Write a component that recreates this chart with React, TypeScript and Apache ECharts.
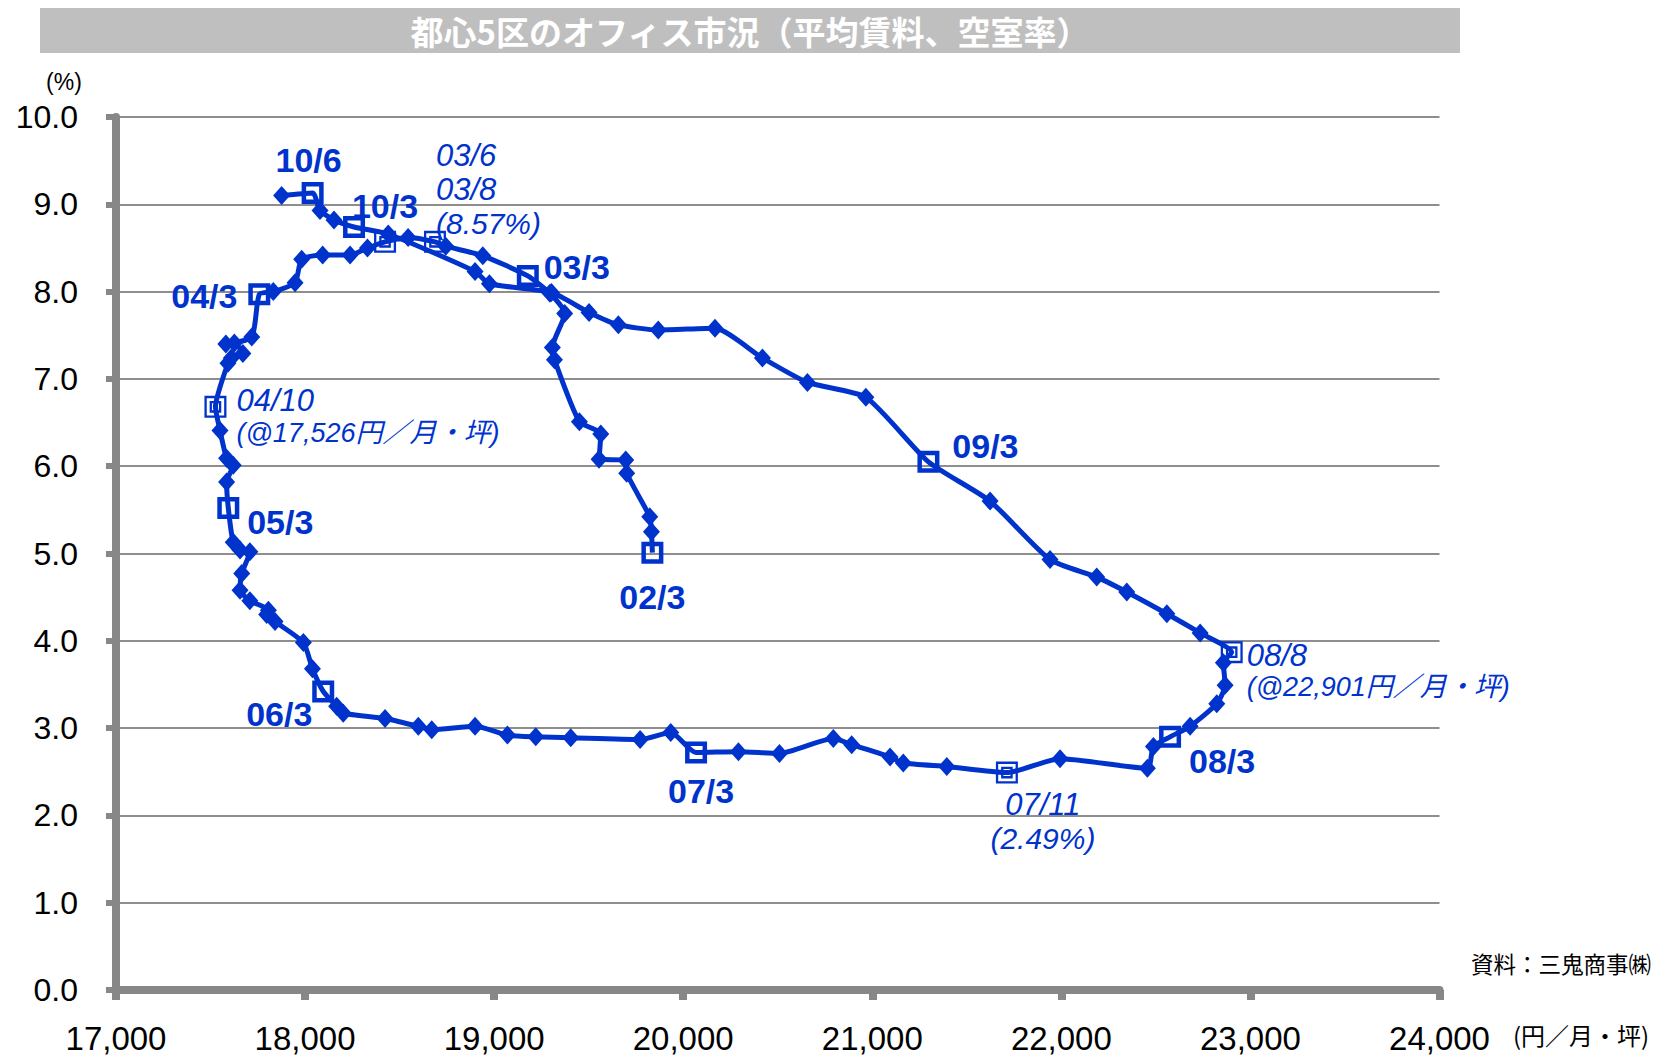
import React, { useEffect, useRef } from "react";
import * as echarts from "echarts";

// ---------------- data ----------------
const START_YEAR = 2002;
const START_MONTH = 3;

// average rent (円/月・坪), monthly from 02/3 to 10/7
const rents = [
  19837, 19832, 19823, 19701, 19696, 19555, 19564, 19451, 19319, 19308,
  19373, 19295, 19178, 18940, 18744, 18687, 18545, 18423, 18330, 18238, 18093, 17982,
  17947, 17832, 17758, 17718, 17581, 17626, 17671, 17610, 17592, 17526, 17550, 17585,
  17620, 17585, 17594, 17620, 17656, 17708, 17665, 17656, 17708, 17806, 17797, 17841,
  17991, 18039, 18096, 18167, 18202, 18423, 18599, 18670, 18899, 19070, 19220, 19405,
  19772, 19934, 20068, 20292, 20509, 20794, 20891, 21094, 21164, 21394, 21712, 21993,
  22455, 22487, 22575, 22681, 22822, 22866, 22857, 22901, 22734, 22558, 22346, 22187,
  21940, 21623, 21297, 20966, 20657, 20419, 20168, 19868, 19657, 19502, 19303, 18975,
  18899, 18440, 18259, 18153, 18079, 18040, 17876,
];

// vacancy rate (%)
const vacancies = [
  5.01, 5.25, 5.42, 5.92, 6.07, 6.08, 6.37, 6.51, 7.22, 7.36,
  7.75, 7.98, 8.18, 8.41, 8.52, 8.57, 8.62, 8.57, 8.5, 8.42, 8.42, 8.37,
  8.1, 8.0, 7.97, 7.48, 7.4, 7.41, 7.29, 7.24, 7.18, 6.68, 6.41, 6.09,
  6.01, 5.82, 5.52, 5.13, 5.04, 5.02, 4.77, 4.58, 4.46, 4.35, 4.3, 4.22,
  3.98, 3.68, 3.42, 3.25, 3.17, 3.11, 3.02, 2.98, 3.02, 2.92, 2.9, 2.89,
  2.87, 2.95, 2.72, 2.73, 2.71, 2.88, 2.81, 2.67, 2.6, 2.56, 2.49, 2.65,
  2.54, 2.79, 2.9, 3.02, 3.28, 3.49, 3.75, 3.87, 4.09, 4.31, 4.56, 4.73,
  4.93, 5.6, 6.05, 6.79, 6.96, 7.24, 7.58, 7.56, 7.62, 7.76, 7.99, 8.09,
  8.23, 8.66, 8.74, 8.82, 8.93, 9.13, 9.1,
];

const months = rents.map((_, i) => {
  const t = START_MONTH - 1 + i;
  const yy = (START_YEAR + Math.floor(t / 12)) % 100;
  return `${String(yy).padStart(2, "0")}/${(t % 12) + 1}`;
});

// months marked with a bold label and a square
const boldMonths = ["02/3", "03/3", "04/3", "05/3", "06/3", "07/3", "08/3", "09/3", "10/3", "10/6"];

// peak / trough months marked with a double square
const peakMonths = ["03/6", "03/8", "04/10", "07/11", "08/8"];
const peakTexts: Record<string, string> = {
  "03/6": "{a|03/6}\n{a|03/8}\n{b|(8.57%)}",
  "04/10": "{a|04/10}\n{c|(@17,526円／月・坪)}",
  "08/8": "{a|08/8}\n{c|(@22,901円／月・坪)}",
  "07/11": "{a|07/11}\n{b|(2.49%)}",
};

const titleText = "都心5区のオフィス市況（平均賃料、空室率）";
const yUnit = "(%)";
const xUnit = "(円／月・坪)";
const sourceText = "資料：三鬼商事㈱";

// ---------------- styling ----------------
const BLUE = "#0033cc";
const AXIS_GREY = "#878787";
const GRID_GREY = "#8e8e8e";
const LATIN = '"Liberation Sans", Arial, "Noto Sans CJK JP", sans-serif';
const CJK = '"Noto Sans CJK JP", "Liberation Sans", sans-serif';

const SQUARE = "path://M0,0H22V22H0Z M4.5,4.5V17.5H17.5V4.5Z";
const DOUBLE_SQUARE =
  "path://M0,0H22V22H0Z M2.3,2.3V19.7H19.7V2.3Z M5.2,5.2H16.8V16.8H5.2Z M7.5,7.5V14.5H14.5V7.5Z";

const labelPlacement: Record<string, { offset: [number, number]; align?: string }> = {
  "10/6": { offset: [-4, -33] },
  "10/3": { offset: [31, -21] },
  "03/3": { offset: [49, -9] },
  "04/3": { offset: [-55, 2] },
  "05/3": { offset: [52, 14] },
  "06/3": { offset: [-44, 23] },
  "02/3": { offset: [0, 44] },
  "07/3": { offset: [5, 38] },
  "09/3": { offset: [57, -16] },
  "08/3": { offset: [52, 24] },
  "03/6": { offset: [1, -52], align: "left" },
  "04/10": { offset: [21, 9], align: "left" },
  "08/8": { offset: [15, 18], align: "left" },
  "07/11": { offset: [36, 49], align: "center" },
};

function buildData() {
  return rents.map((r, i) => {
    const m = months[i];
    const item: any = { value: [r, vacancies[i]], name: m };
    if (boldMonths.includes(m)) {
      const p = labelPlacement[m];
      item.symbol = SQUARE;
      item.symbolSize = 22;
      item.label = {
        show: true,
        position: "inside",
        offset: p.offset,
        formatter: m,
        color: BLUE,
        fontFamily: LATIN,
        fontWeight: "bold",
        fontSize: 34,
      };
    } else if (peakMonths.includes(m)) {
      item.symbol = DOUBLE_SQUARE;
      item.symbolSize = 22;
      if (peakTexts[m]) {
        const p = labelPlacement[m];
        item.label = {
          show: true,
          position: "inside",
          offset: p.offset,
          align: p.align,
          verticalAlign: "middle",
          formatter: peakTexts[m],
          color: BLUE,
          rich: {
            a: { fontSize: 31, fontStyle: "italic", fontFamily: LATIN, color: BLUE, lineHeight: 34, align: p.align },
            b: { fontSize: 30, fontStyle: "italic", fontFamily: LATIN, color: BLUE, lineHeight: 34, align: p.align },
            c: { fontSize: 27, fontStyle: "italic", fontFamily: LATIN, color: BLUE, lineHeight: 30, align: p.align },
          },
        };
      }
    }
    return item;
  });
}

export default function App() {
  const ref = useRef<HTMLDivElement>(null);

  useEffect(() => {
    document.body.style.margin = "0";
    if (!ref.current) return;
    const chart = echarts.init(ref.current, undefined, { renderer: "svg" });

    const option: any = {
      animation: false,
      backgroundColor: "#ffffff",
      grid: { left: 116, right: 216.5, top: 117, bottom: 66, containLabel: false },
      xAxis: {
        type: "value",
        min: 17000,
        max: 24000,
        interval: 1000,
        axisLine: { show: true, onZero: false, lineStyle: { color: AXIS_GREY, width: 8 } },
        axisTick: { show: true, inside: false, length: 10, lineStyle: { color: AXIS_GREY, width: 8 } },
        splitLine: { show: false },
        axisLabel: {
          color: "#000",
          fontSize: 33,
          fontFamily: LATIN,
          margin: 32,
          formatter: (v: number) => v.toLocaleString("en-US"),
        },
      },
      yAxis: {
        type: "value",
        min: 0,
        max: 10,
        interval: 1,
        axisLine: { show: true, onZero: false, lineStyle: { color: AXIS_GREY, width: 8 } },
        axisTick: { show: true, inside: false, length: 10, lineStyle: { color: AXIS_GREY, width: 6 } },
        splitLine: { show: true, lineStyle: { color: GRID_GREY, width: 2 } },
        axisLabel: {
          color: "#000",
          fontSize: 32,
          fontFamily: LATIN,
          margin: 38,
          formatter: (v: number) => v.toFixed(1),
        },
      },
      graphic: [
        { type: "rect", shape: { x: 40, y: 8, width: 1420, height: 45 }, style: { fill: "#bfbfbf" }, z: 0 },
        {
          type: "text",
          x: 750,
          y: 31,
          style: {
            text: titleText,
            fill: "#ffffff",
            fontSize: 33,
            fontWeight: "bold",
            fontFamily: CJK,
            align: "center",
            verticalAlign: "middle",
          },
          z: 1,
        },
        {
          type: "text",
          x: 64,
          y: 82,
          style: { text: yUnit, fill: "#000", fontSize: 23, fontFamily: LATIN, align: "center", verticalAlign: "middle" },
        },
        {
          type: "text",
          x: 1513,
          y: 1034,
          style: { text: xUnit, fill: "#000", fontSize: 24, fontFamily: CJK, align: "left", verticalAlign: "middle" },
        },
        {
          type: "text",
          x: 1651,
          y: 963,
          style: { text: sourceText, fill: "#000", fontSize: 22.5, fontFamily: CJK, align: "right", verticalAlign: "middle" },
        },
      ],
      series: [
        {
          type: "line",
          data: buildData(),
          smooth: 0.2,
          symbol: "diamond",
          symbolSize: [17, 19],
          symbolKeepAspect: true,
          showAllSymbol: true,
          lineStyle: { color: BLUE, width: 5 },
          itemStyle: { color: BLUE },
          label: { show: false },
          emphasis: { disabled: true },
          z: 3,
        },
      ],
    };

    chart.setOption(option);
    return () => chart.dispose();
  }, []);

  return <div ref={ref} style={{ width: 1656, height: 1056 }} />;
}
